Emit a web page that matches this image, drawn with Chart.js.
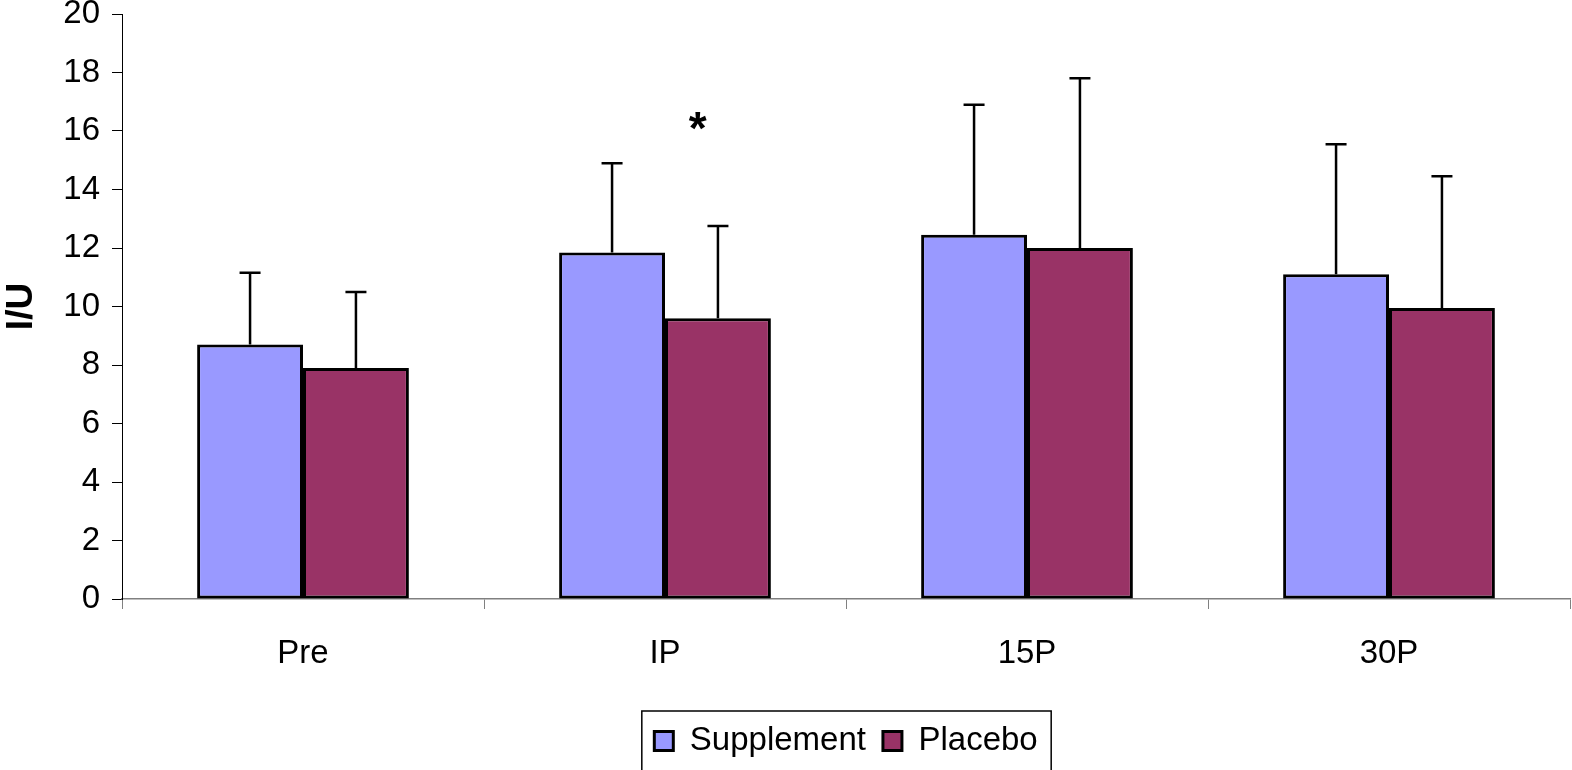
<!DOCTYPE html>
<html>
<head>
<meta charset="utf-8">
<script src="https://cdn.jsdelivr.net/npm/chart.js@4/dist/chart.umd.min.js"></script>
<style>
  html, body { margin: 0; padding: 0; background: #fff; }
  #wrap { width: 1572px; height: 770px; }
</style>
</head>
<body>
<div id="wrap"><canvas id="chart" width="1572" height="770"></canvas></div>
<script>
// categories and values
const categories = ['Pre', 'IP', '15P', '30P'];
const supplement = [8.7, 11.85, 12.45, 11.1];
const placebo = [7.9, 9.6, 12.0, 9.95];
// upward error bars (SD)
const supplementErr = [2.45, 3.05, 4.45, 4.45];
const placeboErr = [2.6, 3.15, 5.8, 4.5];
const yTicks = [0, 2, 4, 6, 8, 10, 12, 14, 16, 18, 20];

// significance mark, in category-index / value units
const starText = '*';
const starIndex = 1.09;
const starValue = 16.35;

const FONT = 'Liberation Sans, Arial, sans-serif';
Chart.defaults.color = '#000';
Chart.defaults.font.family = FONT;

// draws the positive error bars on each bar
const errorBars = {
	id: 'errorBars',
	afterDatasetsDraw(chart) {
		const ctx = chart.ctx;
		const y = chart.scales.y;
		ctx.save();
		ctx.strokeStyle = '#000';
		ctx.lineWidth = 2.5;
		chart.data.datasets.forEach((ds, i) => {
			const meta = chart.getDatasetMeta(i);
			meta.data.forEach((bar, j) => {
				const top = y.getPixelForValue(ds.data[j] + ds.errors[j]);
				ctx.beginPath();
				ctx.moveTo(bar.x, bar.y);
				ctx.lineTo(bar.x, top);
				ctx.moveTo(bar.x - 10.5, top);
				ctx.lineTo(bar.x + 10.5, top);
				ctx.stroke();
			});
		});
		ctx.restore();
	}
};

// asterisk + frame round the legend
const extras = {
	id: 'extras',
	afterDraw(chart) {
		const ctx = chart.ctx;
		ctx.save();
		ctx.font = 'bold 46px ' + FONT;
		ctx.fillStyle = '#000';
		ctx.textAlign = 'center';
		ctx.textBaseline = 'alphabetic';
		const m = ctx.measureText(starText);
		const sx = chart.scales.x.getPixelForValue(starIndex);
		const sy = chart.scales.y.getPixelForValue(starValue);
		const mid = (m.actualBoundingBoxAscent - m.actualBoundingBoxDescent) / 2;
		ctx.fillText(starText, sx, sy + mid);

		const hb = chart.legend.legendHitBoxes;
		if (hb && hb.length) {
			const first = hb[0], last = hb[hb.length - 1];
			const cy = first.top + first.height / 2;
			ctx.strokeStyle = '#000';
			ctx.lineWidth = 1.5;
			ctx.strokeRect(first.left - 12.5, cy - 30, last.left + last.width - first.left + 26, 80);
		}
		ctx.restore();
	}
};

new Chart(document.getElementById('chart'), {
	type: 'bar',
	data: {
		labels: categories,
		datasets: [
			{
				label: 'Supplement',
				data: supplement,
				errors: supplementErr,
				backgroundColor: '#9999FF',
				borderColor: '#000',
				borderWidth: 3,
				borderSkipped: false
			},
			{
				label: 'Placebo',
				data: placebo,
				errors: placeboErr,
				backgroundColor: '#993366',
				borderColor: '#000',
				borderWidth: 3,
				borderSkipped: false
			}
		]
	},
	options: {
		responsive: false,
		animation: false,
		devicePixelRatio: 1,
		layout: { padding: { top: 14, right: 2, bottom: 2.5, left: 0 } },
		datasets: {
			bar: { categoryPercentage: 0.585, barPercentage: 1.0 }
		},
		plugins: {
			tooltip: { enabled: false },
			legend: {
				position: 'bottom',
				fullSize: false,
				labels: {
					font: { size: 33 },
					color: '#000',
					boxWidth: 19,
					boxHeight: 19,
					padding: 17
				}
			}
		},
		scales: {
			x: {
				grid: {
					offset: true,
					drawOnChartArea: false,
					drawTicks: true,
					tickLength: 10,
					color: '#808080'
				},
				border: { color: '#808080', width: 1.5 },
				ticks: { font: { size: 33 }, padding: 25, color: '#000' },
				afterFit(scale) {
					scale.height = 108.5;
					scale.paddingLeft = 0;
					scale.paddingRight = 0;
				}
			},
			y: {
				min: 0,
				max: 20,
				afterBuildTicks(scale) {
					scale.ticks = yTicks.map(v => ({ value: v }));
				},
				grid: {
					drawOnChartArea: false,
					drawTicks: true,
					tickLength: 10,
					color: '#000'
				},
				border: { color: '#000', width: 1 },
				ticks: { font: { size: 33 }, padding: 12, color: '#000' },
				title: {
					display: true,
					text: 'I/U',
					font: { size: 37, weight: 'bold' },
					color: '#000',
					padding: 0
				},
				afterFit(scale) {
					scale.width = 122;
					scale.paddingTop = 0;
					scale.paddingBottom = 0;
				}
			}
		}
	},
	plugins: [errorBars, extras]
});
</script>
</body>
</html>
